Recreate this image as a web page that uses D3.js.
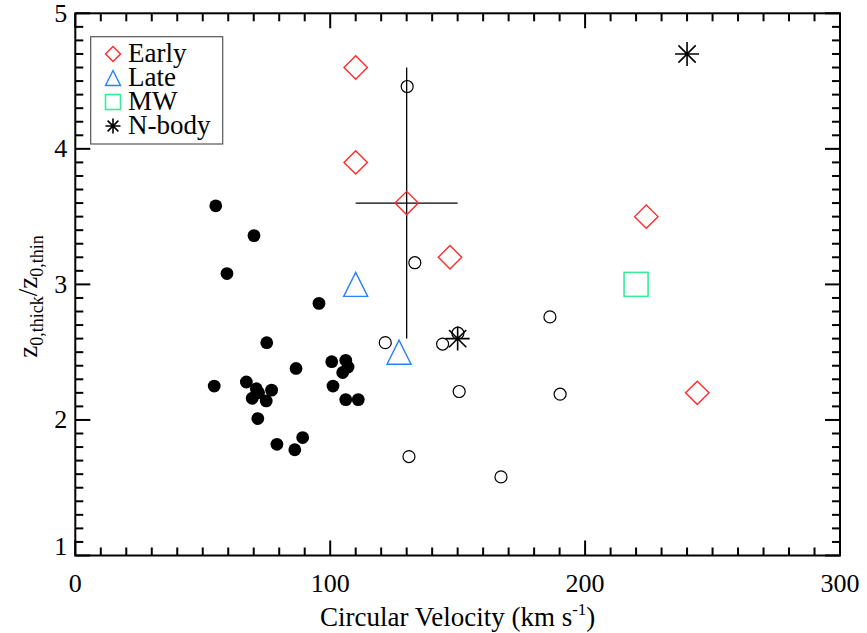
<!DOCTYPE html>
<html>
<head>
<meta charset="utf-8">
<script src="https://cdn.jsdelivr.net/npm/d3@7"></script>
<style>
  body { margin: 0; background: #fff; }
  svg { display: block; }
  svg text { font-family: "Liberation Serif", "DejaVu Serif", serif; fill: #000; }
</style>
</head>
<body>
<svg id="chart"></svg>
<script>
// filled dots (dwarf sample)
const dwarfVel = [55.1, 70.1, 59.5, 95.6, 75.1, 54.5, 86.6, 100.6, 106.1, 107.0, 104.9, 101.1,
                  106.1, 111.0, 67.1, 71.0, 71.9, 77.0, 69.4, 74.9, 71.6, 79.1, 86.1, 89.2];
const dwarfRatio = [3.58, 3.36, 3.08, 2.86, 2.57, 2.25, 2.38, 2.43, 2.44, 2.39, 2.35, 2.25,
                    2.15, 2.15, 2.28, 2.23, 2.20, 2.22, 2.16, 2.14, 2.01, 1.82, 1.78, 1.87];
// open circles
const openVel = [130.2, 133.2, 121.6, 144.1, 150.1, 186.2, 150.6, 190.2, 130.9, 167.0];
const openRatio = [4.46, 3.16, 2.57, 2.56, 2.64, 2.76, 2.21, 2.19, 1.73, 1.58];
// legend groups
const earlyVel = [110, 110, 130, 147, 224, 244];
const earlyRatio = [4.6, 3.9, 3.6, 3.2, 3.5, 2.2];
const lateVel = [110, 127];
const lateRatio = [3.0, 2.5];
const mwVel = [220];
const mwRatio = [3.0];
const nbodyVel = [240, 150];
const nbodyRatio = [4.7, 2.6];
// error bar on the early-type mean
const errVel = 130, errRatio = 3.6, errV = 20, errR = 1.0;

const xTicks = [0, 100, 200, 300];
const yTicks = [1, 2, 3, 4, 5];
const legendLabels = ["Early", "Late", "MW", "N-body"];

const width = 867, height = 633;
const pLeft = 75.3, pRight = 840, pTop = 13.3, pBottom = 555.5;
const red = "#ff2a2a", blue = "#2a7fff", green = "#33ee99";

const x = d3.scaleLinear().domain([0, 300]).range([pLeft, pRight]);
const y = d3.scaleLinear().domain([1, 5]).range([pBottom, pTop]);

const svg = d3.select("#chart")
    .attr("width", width)
    .attr("height", height);

// axes: ticks point inward on all four sides
const minorX = d3.range(0, 301, 10);
const minorY = d3.range(10, 51, 1).map(d => d / 10);

function tickLen(isMajor) { return isMajor ? 15 : 8; }

const ax = svg.append("g").attr("stroke", "#000").attr("stroke-width", 2).attr("fill", "none");

minorX.forEach(v => {
    const L = tickLen(v % 100 === 0);
    ax.append("line").attr("x1", x(v)).attr("x2", x(v)).attr("y1", pBottom).attr("y2", pBottom - L);
    ax.append("line").attr("x1", x(v)).attr("x2", x(v)).attr("y1", pTop).attr("y2", pTop + L);
});
minorY.forEach(v => {
    const L = tickLen(Math.abs(v - Math.round(v)) < 1e-6);
    ax.append("line").attr("y1", y(v)).attr("y2", y(v)).attr("x1", pLeft).attr("x2", pLeft + L);
    ax.append("line").attr("y1", y(v)).attr("y2", y(v)).attr("x1", pRight).attr("x2", pRight - L);
});
ax.append("rect")
    .attr("x", pLeft).attr("y", pTop)
    .attr("width", pRight - pLeft).attr("height", pBottom - pTop);

// tick labels
svg.append("g").selectAll("text")
    .data(xTicks)
    .join("text")
    .attr("x", d => x(d))
    .attr("y", 592)
    .attr("text-anchor", "middle")
    .attr("font-size", 26)
    .text(d => d);

svg.append("g").selectAll("text")
    .data(yTicks)
    .join("text")
    .attr("x", pLeft - 8)
    .attr("y", d => y(d) + (d === 1 ? -1 : 8.5))
    .attr("text-anchor", "end")
    .attr("font-size", 26)
    .text(d => d);

// axis titles
const xt = svg.append("text")
    .attr("x", (pLeft + pRight) / 2)
    .attr("y", 626)
    .attr("text-anchor", "middle")
    .attr("font-size", 27);
xt.append("tspan").text("Circular Velocity (km s");
xt.append("tspan").attr("font-size", 17).attr("dy", -11).text("-1");
xt.append("tspan").attr("dy", 11).text(")");

const yt = svg.append("text")
    .attr("transform", `translate(37,${(pTop + pBottom) / 2 + 12}) rotate(-90)`)
    .attr("text-anchor", "middle")
    .attr("font-size", 27);
yt.append("tspan").text("z");
yt.append("tspan").attr("font-size", 18).attr("dy", 6).text("0,thick");
yt.append("tspan").attr("dy", -6).text("/z");
yt.append("tspan").attr("font-size", 18).attr("dy", 6).text("0,thin");

// marker shapes
function diamond(g, cx, cy, r, col) {
    g.append("path")
        .attr("d", `M${cx},${cy - r}L${cx + r},${cy}L${cx},${cy + r}L${cx - r},${cy}Z`)
        .attr("fill", "none").attr("stroke", col).attr("stroke-width", 1.4);
}
function triangle(g, cx, cy, r, col) {
    g.append("path")
        .attr("d", `M${cx},${cy - r}L${cx + r},${cy + r}L${cx - r},${cy + r}Z`)
        .attr("fill", "none").attr("stroke", col).attr("stroke-width", 1.4);
}
function square(g, cx, cy, r, col) {
    g.append("rect")
        .attr("x", cx - r).attr("y", cy - r).attr("width", 2 * r).attr("height", 2 * r)
        .attr("fill", "none").attr("stroke", col).attr("stroke-width", 1.6);
}
function asterisk(g, cx, cy, r) {
    const k = r * 0.72;
    g.append("path")
        .attr("d", `M${cx - r},${cy}H${cx + r}M${cx},${cy - r}V${cy + r}` +
                   `M${cx - k},${cy - k}L${cx + k},${cy + k}M${cx - k},${cy + k}L${cx + k},${cy - k}`)
        .attr("fill", "none").attr("stroke", "#000").attr("stroke-width", 1.6);
}

const marks = svg.append("g");

// error bars
marks.append("line")
    .attr("x1", x(errVel)).attr("x2", x(errVel))
    .attr("y1", y(errRatio + errR)).attr("y2", y(errRatio - errR))
    .attr("stroke", "#000").attr("stroke-width", 1.3);
marks.append("line")
    .attr("x1", x(errVel - errV)).attr("x2", x(errVel + errV))
    .attr("y1", y(errRatio)).attr("y2", y(errRatio))
    .attr("stroke", "#000").attr("stroke-width", 1.3);

marks.append("g").selectAll("circle")
    .data(d3.zip(dwarfVel, dwarfRatio))
    .join("circle")
    .attr("cx", d => x(d[0])).attr("cy", d => y(d[1]))
    .attr("r", 6.4).attr("fill", "#000");

marks.append("g").selectAll("circle")
    .data(d3.zip(openVel, openRatio))
    .join("circle")
    .attr("cx", d => x(d[0])).attr("cy", d => y(d[1]))
    .attr("r", 6).attr("fill", "none").attr("stroke", "#000").attr("stroke-width", 1.2);

earlyVel.forEach((v, i) => diamond(marks, x(v), y(earlyRatio[i]), 11.7, red));
lateVel.forEach((v, i) => triangle(marks, x(v), y(lateRatio[i]), 12, blue));
mwVel.forEach((v, i) => square(marks, x(v), y(mwRatio[i]), 12, green));
nbodyVel.forEach((v, i) => asterisk(marks, x(v), y(nbodyRatio[i]), 12));

// legend
const lg = svg.append("g");
lg.append("rect")
    .attr("x", 90.7).attr("y", 36.7).attr("width", 132).attr("height", 107.3)
    .attr("fill", "#fff").attr("stroke", "#555").attr("stroke-width", 1.2);
const legendDraw = [
    (cy) => diamond(lg, 113, cy, 7.5, red),
    (cy) => triangle(lg, 113, cy, 7.5, blue),
    (cy) => square(lg, 113, cy, 7.5, green),
    (cy) => asterisk(lg, 113, cy, 7.5)
];
legendLabels.forEach((t, i) => {
    const cy = 54 + i * 24;
    legendDraw[i](cy);
    lg.append("text")
        .attr("x", 128).attr("y", cy + 8)
        .attr("font-size", 27)
        .text(t);
});
</script>
</body>
</html>
